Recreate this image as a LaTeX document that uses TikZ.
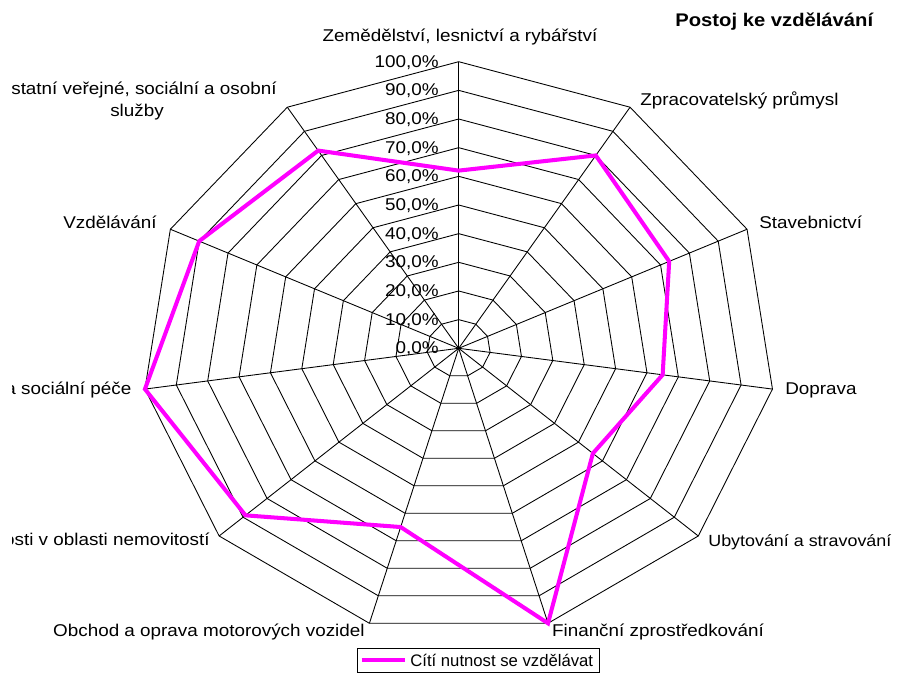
\documentclass[tikz,border=0pt]{standalone}
\usepackage{fontspec}
\setmainfont{Liberation Sans}[FakeStretch=1.107]
\newfontfamily\legendfont{Liberation Sans}
\usetikzlibrary{positioning}
\definecolor{seriespink}{RGB}{255,0,255}

\begin{document}
\begin{tikzpicture}[x=0.02cm, y=-0.02cm, font=\fontsize{9.7}{11.6}\selectfont]
    \tikzset{
        webline/.style={black, line width=0.5pt},
        valueline/.style={seriespink, line width=2.3pt},
        lbl/.style={inner sep=0pt},
        pct/.style={inner sep=0pt, anchor=base east},
    }

    \useasboundingbox (0,0) rectangle (898,672);
    \clip (0,0) rectangle (898,672);

    % CENTRE AND WEB POINTS
    \coordinate (ctr) at (458.7,348.3);
    \foreach \k in {0,...,10} {
        \pgfmathsetmacro{\ang}{-90+\k*360/11}
        \foreach \l in {1,...,10}
            \coordinate (r\k-\l) at ({458.7+31.7*\l*cos(\ang)}, {348.3+28.66*\l*sin(\ang)});
    }

    % RINGS
    \foreach \l in {1,...,10}
        \draw[webline] (r0-\l) \foreach \k in {1,...,10} { -- (r\k-\l) } -- cycle;

    % SPOKES
    \foreach \k in {0,...,10}
        \draw[webline] (ctr) -- (r\k-10);

    % SCALE
    \foreach \v [count=\l from 0] in {0,10,...,100}
        \node[pct] (pct\l) at (439, {353.8-2.866*\v}) {\v,0\%};

    % VALUES
    \foreach \v [count=\k from 0] in {62,80,73,65,56,100,65,89,100,90,82}
        \coordinate (v\k) at ({458.7+3.17*\v*cos(-90+\k*360/11)}, {348.3+2.866*\v*sin(-90+\k*360/11)});
    \draw[valueline] (v0) \foreach \k in {1,...,10} { -- (v\k) } -- cycle;

    % AXIS LABELS (the chart area cuts them at the left)
    \begin{scope}
        \clip (12,0) rectangle (898,672);
        \node[lbl, anchor=base] (lab0) at (460,41.7) {Zemědělství, lesnictví a rybářství};
        \node[lbl, anchor=base west] (lab1) at (640,106) {Zpracovatelský průmysl};
        \node[lbl, anchor=base west] (lab2) at (759,228.5) {Stavebnictví};
        \node[lbl, anchor=base west] (lab3) at (785,394.3) {Doprava};
        \node[lbl, anchor=base west, font=\fontsize{9.2}{11}\selectfont] (lab4) at (708,546) {Ubytování a stravování};
        \node[lbl, anchor=base west] (lab5) at (551.7,636) {Finanční zprostředkování};
        \node[lbl, anchor=base east] (lab6) at (365,636.5) {Obchod a oprava motorových vozidel};
        \node[lbl, anchor=base east] (lab7) at (210,545) {Činnosti v oblasti nemovitostí};
        \node[lbl, anchor=base east] (lab8) at (131.7,394) {Zdravotní a sociální péče};
        \node[lbl, anchor=base east] (lab9) at (157,228.3) {Vzdělávání};
        \node[lbl, anchor=base east] (lab10) at (277,95) {Ostatní veřejné, sociální a osobní};
        \node[lbl, anchor=base] (lab10b) at (137,116.7) {služby};
    \end{scope}

    % TITLE
    \node[lbl, anchor=base west, font=\fontsize{10.4}{12.5}\selectfont\bfseries] (title) at (675,26.7) {Postoj ke vzdělávání};

    % LEGEND
    \node[draw, line width=0.5pt, inner sep=0pt, anchor=north west,
          minimum width=4.846cm, minimum height=0.48cm] (legend) at (356.7,647.7) {};
    \coordinate (keyL) at (361.7,660);
    \coordinate (keyR) at (405,660);
    \draw[valueline] (keyL) -- (keyR);
    \node[lbl, anchor=base west, font=\legendfont\fontsize{9.5}{11.4}\selectfont] (legtext) at (410,666) {Cítí nutnost se vzdělávat};

\end{tikzpicture}
\end{document}
